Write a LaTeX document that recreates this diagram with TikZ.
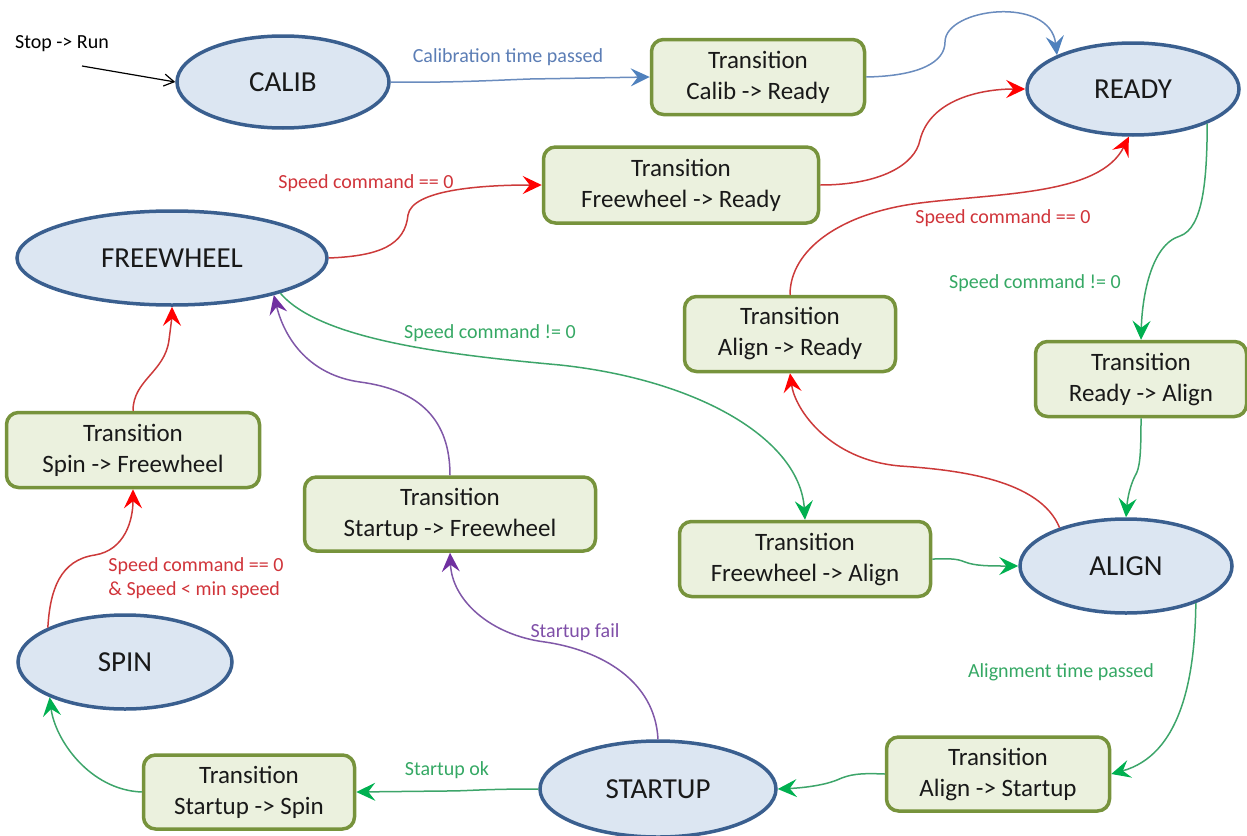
\documentclass[tikz,border=0pt]{standalone}
\usepackage{fontspec}
\setmainfont{Carlito}
\usetikzlibrary{shapes.geometric,arrows.meta}

\definecolor{stateline}{HTML}{3A5F8F}
\definecolor{statefill}{HTML}{DCE6F2}
\definecolor{transline}{HTML}{77933C}
\definecolor{transfill}{HTML}{EBF1DE}
\definecolor{blueline}{HTML}{6A8CBE}
\definecolor{bluetext}{HTML}{5B7DB5}
\definecolor{bluetip}{HTML}{4F81BD}
\definecolor{redline}{HTML}{CC3A3A}
\definecolor{redtext}{HTML}{D0343A}
\definecolor{redtip}{HTML}{FF0000}
\definecolor{greenline}{HTML}{3DA56A}
\definecolor{greentext}{HTML}{35A864}
\definecolor{greentip}{HTML}{00B050}
\definecolor{purpleline}{HTML}{8058A8}
\definecolor{purpletext}{HTML}{7F4FA8}
\definecolor{purpletip}{HTML}{7030A0}

\begin{document}
\begin{tikzpicture}[x=0.5pt,y=-0.5pt,
  state/.style={ellipse, draw=stateline, fill=statefill, line width=1.75pt,
    inner sep=0pt, text=black!90, font=\fontsize{14.5}{17}\selectfont},
  trans/.style={rectangle, rounded corners=6pt, draw=transline, fill=transfill,
    line width=1.75pt, align=center, inner sep=0pt, text=black!90,
    font=\fontsize{12.5}{15.5}\selectfont},
  lbl/.style={inner sep=0pt, font=\fontsize{10}{12}\selectfont},
  bluearrow/.style={draw=blueline, line width=0.75pt,
    -{Stealth[length=9.5pt, width=9pt, inset=3.5pt, color=bluetip]}},
  redarrow/.style={draw=redline, line width=0.75pt,
    -{Stealth[length=9.5pt, width=9pt, inset=3.5pt, color=redtip]}},
  greenarrow/.style={draw=greenline, line width=0.75pt,
    -{Stealth[length=9.5pt, width=9pt, inset=3.5pt, color=greentip]}},
  purplearrow/.style={draw=purpleline, line width=0.75pt,
    -{Stealth[length=9.5pt, width=9pt, inset=3.5pt, color=purpletip]}}
]
\useasboundingbox (0,0) rectangle (1247,835);

% states
\node[state, minimum width=106pt, minimum height=46pt] (calib) at (283,82) {CALIB};
\node[state, minimum width=106pt, minimum height=46pt] (ready) at (1133,89) {READY};
\node[state, minimum width=155pt, minimum height=47pt] (freewheel) at (172,258) {FREEWHEEL};
\node[state, minimum width=107pt, minimum height=47pt] (spin) at (125,662) {SPIN};
\node[state, minimum width=106pt, minimum height=47pt] (align) at (1126,566) {ALIGN};
\node[state, minimum width=118pt, minimum height=48pt] (startup) at (658,789) {STARTUP};

% transitions
\node[trans, minimum width=106.5pt, minimum height=37.5pt] (calibready) at (758,77) {Transition\\Calib -> Ready};
\node[trans, minimum width=137.5pt, minimum height=38pt] (fwready) at (681,185) {Transition\\Freewheel -> Ready};
\node[trans, minimum width=105.5pt, minimum height=37.5pt] (alignready) at (790,334) {Transition\\Align -> Ready};
\node[trans, minimum width=105.5pt, minimum height=37.5pt] (readyalign) at (1141,379) {Transition\\Ready -> Align};
\node[trans, minimum width=126.5pt, minimum height=37.5pt] (spinfw) at (133,450) {Transition\\Spin -> Freewheel};
\node[trans, minimum width=145.5pt, minimum height=37pt] (startupfw) at (450,514) {Transition\\Startup -> Freewheel};
\node[trans, minimum width=125.5pt, minimum height=37.5pt] (fwalign) at (805,559) {Transition\\Freewheel -> Align};
\node[trans, minimum width=111.5pt, minimum height=37pt] (alignstartup) at (998,774) {Transition\\Align -> Startup};
\node[trans, minimum width=105.5pt, minimum height=37pt] (startupspin) at (249,792) {Transition\\Startup -> Spin};

% entry
\node[lbl, text=black] (entry) at (62,44) {Stop -> Run};
\coordinate (entrystart) at (82,66);
\draw[line width=0.6pt, -{Straight Barb[length=5pt, width=6pt]}] (entrystart) -- (calib.west);

% edge labels
\node[lbl, text=bluetext] (l1) at (508,57) {Calibration time passed};
\node[lbl, text=redtext] (l2) at (366,183) {Speed command == 0};
\node[lbl, text=redtext] (l3) at (1003,218) {Speed command == 0};
\node[lbl, text=greentext] (l4) at (1035,283) {Speed command != 0};
\node[lbl, text=greentext] (l5) at (490,333) {Speed command != 0};
\node[lbl, text=redtext, align=left, anchor=north west, font=\fontsize{10}{12}\selectfont] (l6) at (108,557) {Speed command == 0\\\& Speed < min speed};
\node[lbl, text=purpletext] (l7) at (575,632) {Startup fail};
\node[lbl, text=greentext] (l8) at (1061,672) {Alignment time passed};
\node[lbl, text=greentext] (l9) at (447,770) {Startup ok};

% connectors
\draw[bluearrow] (calib.east) .. controls (450,83) and (500,80) .. (530,79) -- (calibready.west);
\draw[bluearrow] (calibready.east) .. controls (920,76) and (945,62) .. (945,42)
   .. controls (945,8) and (1050,-5) .. (ready.156);

\draw[redarrow] (freewheel.east) .. controls (380,256) and (405,245) .. (408,215)
   .. controls (412,190) and (480,185) .. (fwready.west);
\draw[redarrow] (fwready.east) .. controls (880,185) and (915,165) .. (920,140)
   .. controls (930,100) and (980,89) .. (ready.west);
\draw[redarrow] (alignready.north) .. controls (790,250) and (840,213) .. (920,203)
   .. controls (1000,193) and (1100,195) .. (ready.265);
\draw[redarrow] (align.150) .. controls (1040,480) and (960,470) .. (900,466)
   .. controls (830,460) and (795,410) .. (alignready.south);

\draw[greenarrow] (ready.335) .. controls (1207,180) and (1203,228) .. (1180,236)
   .. controls (1150,245) and (1142,300) .. (readyalign.north);
\draw[greenarrow] (readyalign.south) .. controls (1141,455) and (1140,468) .. (1135,476)
   .. controls (1128,490) and (1127,505) .. (align.north);
\draw[greenarrow] (freewheel.342) .. controls (320,340) and (450,355) .. (560,365)
   .. controls (700,380) and (800,440) .. (fwalign.north);
\draw[greenarrow] (fwalign.east) .. controls (950,559) and (955,558) .. (965,562)
   .. controls (975,566) and (990,566) .. (align.west);
\draw[greenarrow] (align.332) .. controls (1195,680) and (1180,755) .. (alignstartup.east);
\draw[greenarrow] (alignstartup.west) .. controls (860,773) and (850,774) .. (837,780)
   .. controls (822,786) and (800,788) .. (startup.east);
\draw[greenarrow] (startup.west) .. controls (480,789) and (470,791) .. (445,791)
   -- (startupspin.east);
\draw[greenarrow] (startupspin.west) .. controls (90,790) and (55,740) .. (spin.205);

\draw[redarrow] (spin.156) .. controls (50,590) and (60,560) .. (95,555)
   .. controls (125,550) and (133,520) .. (spinfw.south);
\draw[redarrow] (spinfw.north) .. controls (133,380) and (165,372) .. (169,340)
   .. controls (171,325) and (172,315) .. (freewheel.south);

\draw[purplearrow] (startup.north) .. controls (655,680) and (600,650) .. (545,642)
   .. controls (490,635) and (452,600) .. (startupfw.south);
\draw[purplearrow] (startupfw.north) .. controls (450,420) and (420,390) .. (360,382)
   .. controls (310,375) and (285,340) .. (freewheel.340);
\end{tikzpicture}
\end{document}
